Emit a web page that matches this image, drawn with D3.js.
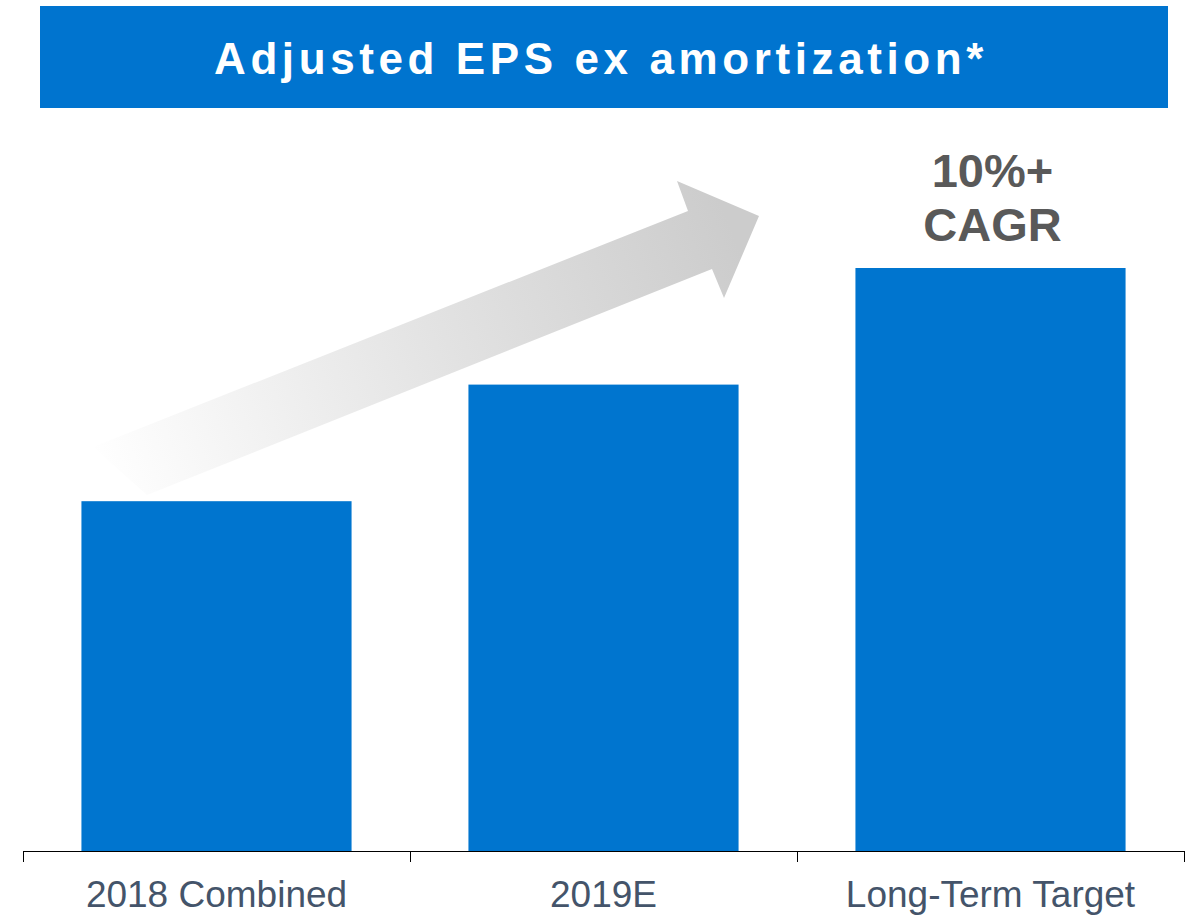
<!DOCTYPE html>
<html>
<head>
<meta charset="utf-8">
<script src="https://cdn.jsdelivr.net/npm/d3@7"></script>
<style>
  body { margin: 0; background: #fff; }
  svg { display: block; font-family: Arial, "Liberation Sans", sans-serif; }
</style>
</head>
<body>
<div id="viz"></div>
<script>
const categories = ["2018 Combined", "2019E", "Long-Term Target"];
const values = [3.0, 4.0, 5.0];
const titleText = "Adjusted EPS ex amortization*";
const calloutLines = ["10%+", "CAGR"];

const width = 1201;
const height = 917;
const barColor = "#0075CF";
const baseY = 851;

const svg = d3.select("#viz")
    .append("svg")
    .attr("width", width)
    .attr("height", height);

// Title banner
svg.append("rect")
    .attr("x", 40).attr("y", 6)
    .attr("width", 1128).attr("height", 102)
    .attr("fill", "#0074CF");
svg.append("text")
    .attr("x", 601).attr("y", 74)
    .attr("text-anchor", "middle")
    .attr("fill", "#fff")
    .style("font-weight", "bold")
    .style("font-size", "44px")
    .style("letter-spacing", "4.6px")
    .text(titleText);

// Scales
const p = 0.302;
const x = d3.scaleBand()
    .domain(categories)
    .range([23, 1184])
    .paddingInner(p)
    .paddingOuter(p / 2);
const y = d3.scaleLinear()
    .domain([0, 5])
    .range([baseY, 268]);

// Growth arrow (decoration)
const defs = svg.append("defs");
const grad = defs.append("linearGradient")
    .attr("id", "arrowGrad")
    .attr("gradientUnits", "userSpaceOnUse")
    .attr("x1", 100).attr("y1", 478)
    .attr("x2", 730).attr("y2", 225);
grad.append("stop").attr("offset", 0).attr("stop-color", "#ffffff");
grad.append("stop").attr("offset", 0.55).attr("stop-color", "#e2e2e2");
grad.append("stop").attr("offset", 1).attr("stop-color", "#cccccc");

const arrowPts = [[93, 447], [688, 211], [677, 181], [759, 216], [724, 298], [712, 269], [147, 495]];
svg.append("path")
    .attr("d", d3.line()(arrowPts) + "Z")
    .attr("fill", "url(#arrowGrad)");

// Bars
svg.selectAll(".bar")
    .data(values)
    .enter()
    .append("rect")
    .attr("class", "bar")
    .attr("x", (d, i) => x(categories[i]))
    .attr("y", d => y(d))
    .attr("width", x.bandwidth())
    .attr("height", d => y(0) - y(d))
    .attr("fill", barColor);

// Axis with ticks at band boundaries
const step = x.step();
const boundaries = categories.map(c => x(c) - step * p / 2).concat([x(categories[categories.length - 1]) - step * p / 2 + step]);
const axis = svg.append("g");
axis.append("line")
    .attr("x1", boundaries[0]).attr("x2", boundaries[boundaries.length - 1])
    .attr("y1", baseY + 0.5).attr("y2", baseY + 0.5)
    .attr("stroke", "#000").attr("stroke-width", 1);
axis.selectAll(".tick")
    .data(boundaries)
    .enter()
    .append("line")
    .attr("x1", d => Math.round(d) + 0.5).attr("x2", d => Math.round(d) + 0.5)
    .attr("y1", baseY).attr("y2", baseY + 11)
    .attr("stroke", "#000").attr("stroke-width", 1);
axis.selectAll(".label")
    .data(categories)
    .enter()
    .append("text")
    .attr("x", d => x(d) + x.bandwidth() / 2)
    .attr("y", 907)
    .attr("text-anchor", "middle")
    .attr("fill", "#44546A")
    .style("font-size", "37px")
    .text(d => d);

// Callout above last bar
const last = categories[categories.length - 1];
svg.selectAll(".callout")
    .data(calloutLines)
    .enter()
    .append("text")
    .attr("x", x(last) + x.bandwidth() / 2 + 2)
    .attr("y", (d, i) => 187 + i * 54)
    .attr("text-anchor", "middle")
    .attr("fill", "#595959")
    .style("font-weight", "bold")
    .style("font-size", "47px")
    .text(d => d);
</script>
</body>
</html>
